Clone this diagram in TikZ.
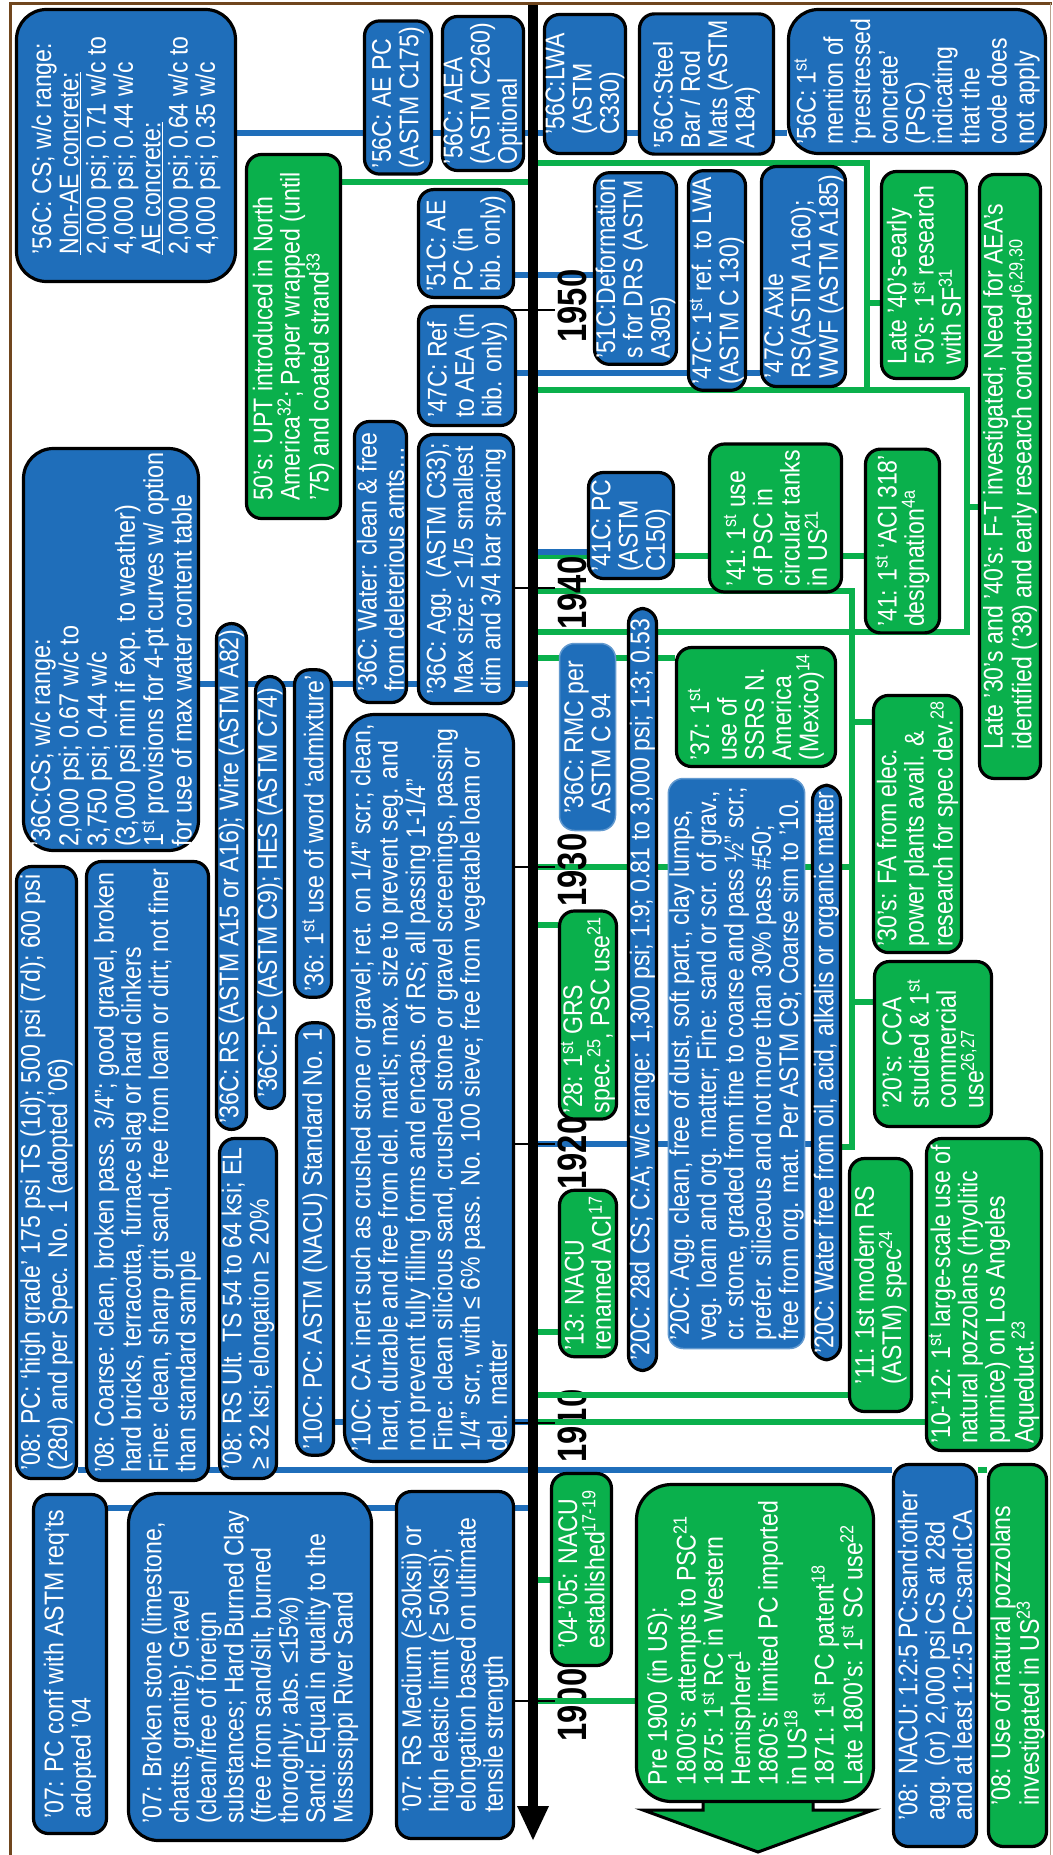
\documentclass[tikz,border=0pt]{standalone}
\usepackage{fontspec}
\setmainfont{Liberation Sans}[FakeStretch=0.855]
\newfontfamily\yearfont{Liberation Sans}[FakeStretch=0.8]
\definecolor{bblue}{RGB}{31,110,186}
\definecolor{bgreen}{RGB}{10,176,76}
\definecolor{framec}{RGB}{112,70,30}
\pgfdeclarelayer{bg}
\pgfsetlayers{bg,main}
\newcommand\sps[1]{\textsuperscript{#1}}
\newcommand\mybox[7]{%
 \pgfmathsetmacro\cxx{(#3+#4)/2}%
 \pgfmathsetmacro\cyy{(#5+#6)/2}%
 \pgfmathsetmacro\www{#6-#5-3}%
 \pgfmathsetmacro\hhh{#4-#3-3}%
 \node[#2, rotate=90, minimum width=\www pt, minimum height=\hhh pt] (#1) at (\cxx,\cyy) {#7};}
\begin{document}
\begin{tikzpicture}[x=1pt,y=-1pt,
 bb/.style={draw=black, line width=3.2pt, fill=bblue, text=white, rounded corners=15pt,
   inner xsep=6pt, inner ysep=1pt, align=left, font={\fontsize{27}{27.3}\selectfont}},
 gb/.style={bb, fill=bgreen},
 lb/.style={bb, draw=bblue!70!white, line width=1.5pt},
 big/.style={rounded corners=30pt},
 bl/.style={draw=bblue, line width=6.5pt},
 gl/.style={draw=bgreen, line width=6pt},
 yr/.style={inner sep=0pt, font={\fontsize{41}{41}\selectfont\yearfont\bfseries}},
 tick/.style={draw=black, line width=1.3pt}]
\useasboundingbox (0,0) rectangle (1052,1855);
\begin{pgfonlayer}{bg}
\fill[white] (0,0) rectangle (1052,1855);
\end{pgfonlayer}
% year labels lying above the connectors (boxes still cover them)
\node[yr, rotate=90] (Y1950) at (572,306) {1950};
\node[yr, rotate=90] (Y1940) at (572,593) {1940};
\node[yr, rotate=90] (Y1930) at (572,870) {1930};
\node[yr, rotate=90] (Y1920) at (572,1153) {1920};
% ---------- left side boxes
\mybox{A56cs}{bb,big}{15}{237}{8}{283}{’56C: CS; w/c range:\\\underline{Non-AE concrete:}\\2,000 psi; 0.71 w/c to\\4,000 psi; 0.44 w/c\\\underline{AE concrete:}\\2,000 psi; 0.64 w/c to\\4,000 psi; 0.35 w/c}
\mybox{B56aepc}{bb}{363}{433}{20}{175}{’56C: AE PC\\(ASTM C175)}
\mybox{C56aea}{bb}{443}{523}{15}{172}{’56C: AEA\\(ASTM C260)\\Optional}
\mybox{D50upt}{gb}{245}{342}{153}{520}{50’s: UPT introduced in North\\America\sps{32}; Paper wrapped (until\\’75) and coated strand\sps{33}}
\mybox{E51aepc}{bb}{417}{515}{190}{297}{’51C: AE\\PC (in\\bib. only)}
\mybox{F47ref}{bb}{417}{517}{305}{427}{’47C: Ref\\to AEA (in\\bib. only)}
\mybox{G36agg}{bb}{417}{515}{433}{705}{’36C: Agg. (ASTM C33);\\Max size: ≤ 1/5 smallest\\dim and 3/4 bar spacing}
\mybox{H36water}{bb}{353}{408}{420}{704}{’36C: Water: clean \& free\\from deleterious amts…}
\mybox{I36cs}{bb,big,inner xsep=3pt,font={\fontsize{27.4}{28.3}\selectfont}}{22}{200}{447}{852}{’36C:CS; w/c range:\\2,000 psi; 0.67 w/c to\\3,750 psi; 0.44 w/c\\(3,000 psi min if exp. to weather)\\1\sps{st} provisions for 4-pt curves w/ option\\for use of max water content table}
\mybox{J36rs}{bb}{215}{248}{628}{1125}{’36C: RS (ASTM A15 or A16); Wire (ASTM A82)}
\mybox{K36pc}{bb}{254}{286}{675}{1110}{’36C: PC (ASTM C9); HES (ASTM C74)}
\mybox{L36adm}{bb}{293}{333}{672}{995}{’36: 1\sps{st} use of word ‘admixture’}
\mybox{M10ca}{bb,big}{343}{515}{713}{1463}{’10C: CA: inert such as crushed stone or gravel; ret. on 1/4" scr.; clean,\\hard, durable and free from del. mat’ls; max. size to prevent seg. and\\not prevent fully filling forms and encaps. of RS; all passing 1-1/4”\\Fine: clean silicious sand, crushed stone or gravel screenings, passing\\1/4" scr., with ≤ 6\% pass. No. 100 sieve; free from vegetable loam or\\del. matter}
\mybox{N10pc}{bb}{295}{335}{1023}{1455}{’10C: PC: ASTM (NACU) Standard No. 1}
\mybox{O08pc}{bb}{15}{78}{865}{1480}{’08: PC: ‘high grade’ 175 psi TS (1d); 500 psi (7d); 600 psi\\(28d) and per Spec. No. 1 (adopted ’06)}
\mybox{P08coarse}{bb}{85}{210}{860}{1482}{’08: Coarse: clean, broken pass. 3/4"; good gravel, broken\\hard bricks, terracotta, furnace slag or hard clinkers\\Fine: clean, sharp grit sand, free from loam or dirt; not finer\\than standard sample}
\mybox{Q08rs}{bb}{218}{278}{1137}{1480}{’08: RS Ult. TS 54 to 64 ksi; EL\\≥ 32 ksi; elongation ≥ 20\%}
\mybox{R07pc}{bb}{32}{108}{1493}{1835}{’07: PC conf with ASTM req’ts\\adopted ’04}
\mybox{S07stone}{bb,big}{127}{373}{1492}{1842}{’07: Broken stone (limestone,\\chatts, granite); Gravel\\(clean/free of foreign\\substances; Hard Burned Clay\\(free from sand/silt, burned\\thoroghly; abs. ≤15\%)\\Sand: Equal in quality to the\\Mississippi River Sand}
\mybox{T07rs}{bb}{395}{515}{1490}{1840}{’07: RS Medium  (≥30ksii) or\\high elastic limit (≥ 50ksi);\\elongation based on ultimate\\tensile strength}
% ---------- right side boxes
\mybox{a56lwa}{bb}{545}{625}{13}{155}{’56C:LWA\\(ASTM\\C330)}
\mybox{b56steel}{bb}{638}{775}{13}{155}{’56C:Steel\\Bar / Rod\\Mats (ASTM\\A184)}
\mybox{c56psc}{bb,big}{787}{1047}{8}{155}{’56C: 1\sps{st}\\mention of\\‘prestressed\\concrete’\\(PSC)\\indicating\\that the\\code does\\not apply}
\mybox{d51def}{bb}{593}{678}{172}{365}{’51C:Deformation\\s for DRS (ASTM\\A305)}
\mybox{e47lwa}{bb}{687}{747}{173}{388}{’47C: 1\sps{st} ref. to LWA\\(ASTM C 130)}
\mybox{f47axle}{bb}{760}{847}{165}{388}{’47C: Axle\\RS(ASTM A160);\\WWF (ASTM A185)}
\mybox{g40sf}{gb}{880}{968}{170}{380}{Late ’40’s-early\\50’s: 1\sps{st} research\\with SF\sps{31}}
\mybox{h30ft}{gb}{978}{1042}{173}{780}{Late ’30’s and ’40’s: F-T investigated; Need for AEA’s\\identified (’38) and early research conducted\sps{6,29,30}}
\mybox{i41pc}{bb}{587}{675}{471}{580}{’41C: PC\\(ASTM\\C150)}
\mybox{j41psc}{gb}{708}{843}{462}{574}{’41: 1\sps{st} use\\of PSC in\\circular tanks\\in US\sps{21}}
\mybox{k41aci}{gb}{864}{941}{469}{613}{’41: 1\sps{st} ‘ACI 318’\\designation\sps{4a}}
\mybox{l36rmc}{lb}{558}{617}{642}{832}{’36C: RMC per\\ASTM C 94}
\mybox{m20cs}{bb}{627}{658}{607}{1372}{’20C: 28d CS; C:A; w/c range: 1,300 psi; 1:9; 0.81 to 3,000 psi; 1:3; 0.53}
\mybox{n37}{gb}{675}{837}{647}{767}{’37: 1\sps{st}\\use of\\SSRS  N.\\America\\(Mexico)\sps{14}}
\mybox{o30fa}{gb}{872}{963}{695}{953}{’30’s: FA from elec.\\power plants avail. \&\\research for spec dev.\sps{28}}
\mybox{p20agg}{lb}{668}{805}{777}{1350}{’20C: Agg. clean, free of dust, soft part., clay lumps,\\veg. loam and org. matter; Fine: sand or scr. of grav.,\\cr. stone, graded from fine to coarse and pass ½” scr.;\\prefer. siliceous and not more than 30\% pass \#50;\\free from org. mat. Per ASTM C9; Coarse sim to ’10.}
\mybox{q20water}{bb}{811}{842}{785}{1360}{’20C: Water free from oil, acid, alkalis or organic matter}
\mybox{r20cca}{gb}{873}{993}{960}{1128}{’20’s: CCA\\studied \& 1\sps{st}\\commercial\\use\sps{26,27}}
\mybox{s28}{gb}{558}{618}{912}{1118}{’28: 1\sps{st} GRS\\spec.\sps{25}, PSC use\sps{21}}
\mybox{t13}{gb}{558}{618}{1190}{1357}{’13: NACU\\renamed ACI\sps{17}}
\mybox{u11}{gb}{848}{913}{1157}{1413}{’11: 1st modern RS\\(ASTM) spec\sps{24}}
\mybox{v1012}{gb}{925}{1043}{1137}{1452}{’10-’12: 1\sps{st} large-scale use of\\natural pozzolans (rhyolitic\\pumice) on Los Angeles\\Aqueduct.\sps{23}}
\mybox{w0405}{gb}{550}{613}{1472}{1667}{’04-’05: NACU\\established\sps{17-19}}
\mybox{x1900}{gb,rounded corners=35pt}{635}{875}{1483}{1803}{Pre 1900 (in US):\\1800’s: attempts to PSC\sps{21}\\1875: 1\sps{st} RC in Western\\Hemisphere\sps{1}\\1860’s: limited PC imported\\in US\sps{18}\\1871: 1\sps{st} PC patent\sps{18}\\Late 1800’s: 1\sps{st} SC use\sps{22}}
\mybox{y08nacu}{bb}{892}{978}{1463}{1848}{’08: NACU: 1:2:5 PC:sand:other\\agg. (or) 2,000 psi CS at 28d\\and at least 1:2:5 PC:sand:CA}
\mybox{z08pozz}{gb}{987}{1048}{1463}{1848}{’08: Use of natural pozzolans\\investigated in US\sps{23}}
% ---------- background: years, connectors, timeline
\begin{pgfonlayer}{bg}
\node[yr, rotate=90] (Y1910) at (572,1426) {1910};
\node[yr, rotate=90] (Y1900) at (572,1705) {1900};
\coordinate (TL) at (533,0);
% blue connectors
\draw[bl] (A56cs.south |- 0,133) -- (c56psc.north |- 0,133);
\draw[bl] (E51aepc.south |- 0,275) -- (d51def.north |- 0,275);
\draw[bl] (F47ref.south |- 0,373) -- (f47axle.north |- 0,373);
\draw[bl] (I36cs.south |- 0,684) -- (TL |- 0,684);
\draw[bl] (N10pc.south |- 0,1422) -- (TL |- 0,1422);
\draw[bl] (R07pc.south |- 0,1508) -- (TL |- 0,1508);
% green connectors
\draw[gl] (D50upt.south |- 0,182) -- (TL |- 0,182);
\draw[gl] (TL |- 0,163) -- (867,163) -- (867,391);
\draw[gl] (867,303) -- (g40sf.north |- 0,303);
\draw[gl] (TL |- 0,390) -- (967,390) -- (967,632) -- (TL |- 0,632);
\draw[gl] (967,507) -- (h30ft.north |- 0,507);
\draw[gl] (TL |- 0,556) -- (k41aci.north |- 0,556);
\draw[gl] (TL |- 0,591) -- (852,591) -- (852,1147) -- (q20water.south |- 0,1147);
\draw[gl] (852,722) -- (o30fa.north |- 0,722);
\draw[gl] (852,1002) -- (r20cca.north |- 0,1002);
\draw[gl] (TL |- 0,658) -- (n37.north |- 0,658);
\draw[gl] (TL |- 0,867) -- (852,867);
\draw[gl] (TL |- 0,925) -- (s28.north |- 0,925);
\draw[gl] (TL |- 0,1332) -- (t13.north |- 0,1332);
\draw[gl] (TL |- 0,1395) -- (u11.north |- 0,1395);
\draw[gl] (TL |- 0,1422) -- (v1012.north |- 0,1422);
\draw[gl] (y08nacu.south |- 0,1470) -- (z08pozz.north |- 0,1470);
\draw[gl] (TL |- 0,1580) -- (w0405.north |- 0,1580);
\draw[gl] (TL |- 0,1701) -- (x1900.north |- 0,1701);
% blue over green
\draw[bl] (TL |- 0,552) -- (i41pc.north |- 0,552);
\draw[bl] (TL |- 0,1144) -- (q20water.north |- 0,1144);
\draw[bl] (O08pc.south |- 0,1470) -- (y08nacu.north |- 0,1470);
% timeline
\draw[line width=10pt] (TL |- 0,3) -- (TL |- 0,1810);
\fill (517,1806) -- (549,1806) -- (533,1840) -- cycle;
\foreach \yy in {310,588,867,1144,1423,1701} {\draw[tick] (510,\yy) -- (555,\yy);}
% big down arrow under Pre 1900
\filldraw[fill=bgreen, draw=black, line width=3pt] (703,1700) -- (813,1700) -- (813,1810) -- (873,1810) -- (758,1852) -- (643,1810) -- (703,1810) -- cycle;
\end{pgfonlayer}
% frame
\draw[framec, line width=3pt] (10,1855) -- (10,3) -- (1052,3);
\draw[framec!50!white, line width=1pt] (1050,3) -- (1050,1855);
\end{tikzpicture}
\end{document}
